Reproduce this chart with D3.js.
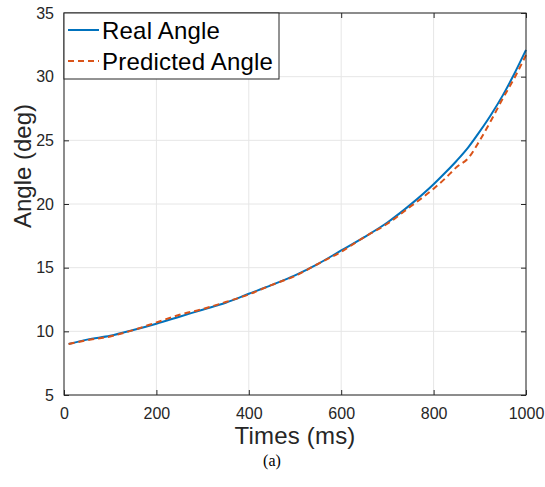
<!DOCTYPE html>
<html>
<head>
<meta charset="utf-8">
<script src="https://cdn.jsdelivr.net/npm/d3@7/dist/d3.min.js"></script>
<style>
  html, body { margin: 0; padding: 0; background: #fff; }
  svg { display: block; }
  text { font-family: "Liberation Sans", Arial, Helvetica, sans-serif; }
</style>
</head>
<body>
<svg id="chart" width="545" height="487"></svg>
<script>
const times = [10,50,100,150,200,250,300,350,400,450,500,550,600,650,700,750,800,825,850,875,900,925,950,975,1000];
const realAngle = [9.0,9.35,9.65,10.1,10.6,11.15,11.7,12.25,12.95,13.65,14.4,15.3,16.35,17.4,18.55,19.95,21.55,22.45,23.4,24.45,25.7,27.05,28.55,30.25,32.1];
const predAngle = [9.0,9.3,9.6,10.1,10.7,11.3,11.75,12.3,12.9,13.65,14.35,15.3,16.25,17.4,18.45,19.8,21.2,22.0,22.9,23.6,25.0,26.6,28.3,29.9,31.7];
const xTicks = [0,200,400,600,800,1000];
const yTicks = [5,10,15,20,25,30,35];
const seriesNames = ["Real Angle","Predicted Angle"];
const seriesColors = ["#0072BD","#D95319"];

const svg = d3.select("#chart");
const L = 64, R = 526, T = 13, B = 395;
const x = d3.scaleLinear().domain([0,1000]).range([L,R]);
const y = d3.scaleLinear().domain([5,35]).range([B,T]);
const axisColor = "#262626";

// grid
svg.append("g").selectAll("line").data(xTicks).join("line")
  .attr("x1", d => x(d)).attr("x2", d => x(d)).attr("y1", T).attr("y2", B)
  .attr("stroke", "#e6e6e6").attr("stroke-width", 1);
svg.append("g").selectAll("line").data(yTicks).join("line")
  .attr("y1", d => y(d)).attr("y2", d => y(d)).attr("x1", L).attr("x2", R)
  .attr("stroke", "#e6e6e6").attr("stroke-width", 1);

// axes
const gx = svg.append("g").attr("transform", `translate(0,${B})`)
  .call(d3.axisBottom(x).tickValues(xTicks).tickSize(-5).tickPadding(13).tickFormat(d3.format("d")));
const gxTop = svg.append("g").attr("transform", `translate(0,${T})`)
  .call(d3.axisTop(x).tickValues(xTicks).tickSize(-5).tickFormat(""));
const gy = svg.append("g").attr("transform", `translate(${L},0)`)
  .call(d3.axisLeft(y).tickValues(yTicks).tickSize(-5).tickPadding(10).tickFormat(d3.format("d")));
const gyR = svg.append("g").attr("transform", `translate(${R},0)`)
  .call(d3.axisRight(y).tickValues(yTicks).tickSize(-5).tickFormat(""));
[gx, gxTop, gy, gyR].forEach(g => {
  g.select(".domain").remove();
  g.selectAll(".tick line").attr("stroke", axisColor);
  g.selectAll("text").attr("fill", axisColor).style("font-size", "16px")
    .style("font-family", "'Liberation Sans', Arial, sans-serif");
});

// lines
const line = d3.line().x((d,i) => x(times[i])).y(d => y(d)).curve(d3.curveMonotoneX);
svg.append("path").datum(realAngle).attr("d", line)
  .attr("fill", "none").attr("stroke", seriesColors[0]).attr("stroke-width", 2);
svg.append("path").datum(predAngle).attr("d", line)
  .attr("fill", "none").attr("stroke", seriesColors[1]).attr("stroke-width", 2)
  .attr("stroke-dasharray", "6,4");

// box
svg.append("rect").attr("x", L).attr("y", T).attr("width", R - L).attr("height", B - T)
  .attr("fill", "none").attr("stroke", axisColor).attr("stroke-width", 1);

// legend
const lg = svg.append("g");
lg.append("rect").attr("x", L).attr("y", T).attr("width", 215).attr("height", 66)
  .attr("fill", "#fff").attr("stroke", axisColor).attr("stroke-width", 1);
seriesNames.forEach((name, i) => {
  const yy = 30 + i * 31;
  lg.append("line").attr("x1", 68).attr("x2", 99).attr("y1", yy).attr("y2", yy)
    .attr("stroke", seriesColors[i]).attr("stroke-width", 2)
    .attr("stroke-dasharray", i === 1 ? "6,4" : null);
  lg.append("text").attr("x", 102).attr("y", yy + 8.5).text(name)
    .attr("fill", "#000").style("font-size", "24px").style("letter-spacing", "0.2px");
});

// axis labels
svg.append("text").attr("x", (L + R) / 2).attr("y", 444).attr("text-anchor", "middle")
  .attr("fill", axisColor).style("font-size", "24px").style("letter-spacing", "0.2px")
  .text("Times (ms)");
svg.append("text").attr("transform", `translate(31,166) rotate(-90)`)
  .attr("text-anchor", "middle").attr("fill", axisColor).style("font-size", "24px")
  .text("Angle (deg)");

// caption
svg.append("text").attr("x", 272).attr("y", 466).attr("text-anchor", "middle")
  .attr("fill", "#000").style("font-family", "'Liberation Serif', 'Times New Roman', serif")
  .style("font-size", "16px").text("(a)");
</script>
</body>
</html>
